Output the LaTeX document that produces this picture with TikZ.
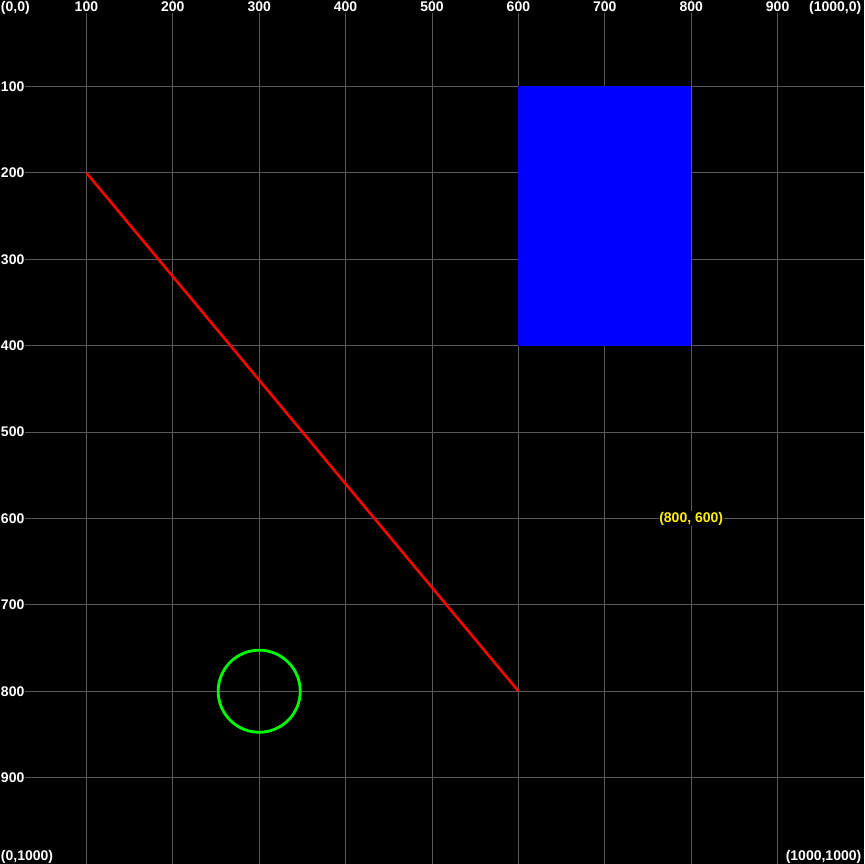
\documentclass[tikz,border=0pt]{standalone}
\usepackage{fontspec}
\setmainfont{Liberation Sans}
\begin{document}
\begin{tikzpicture}[x=0.864bp,y=-0.864bp,
  gridline/.style={draw=white!35!black,line width=0.8bp},
  lbl/.style={text=white,font=\bfseries\fontsize{14bp}{16bp}\selectfont,fill=black,inner sep=0.8bp},
  ylbl/.style={lbl,text=yellow}]
\fill[black] (0,0) rectangle (1000,1000);
\useasboundingbox (0,0) rectangle (1000,1000);
% grid
\foreach \v in {100,200,...,900}{
  \draw[gridline] (\v,0) -- (\v,1000);
  \draw[gridline] (0,\v) -- (1000,\v);
}
% shapes
\fill[blue] (600,100) rectangle (800,400);
\coordinate (p1) at (100,200);
\coordinate (p2) at (600,800);
\draw[red,line width=2.6bp] (p1) -- (p2);
\coordinate (c) at (300,800);
\draw[green,line width=2.8bp] (c) circle[radius=47.5];
% labels
\foreach \v in {100,200,...,900}{
  \node[lbl,anchor=base] at (\v,13.5) {\v};
  \node[lbl,anchor=west] at (0,\v) {\v};
}
\node[lbl,anchor=base west] at (0,13.5) {(0,0)};
\node[lbl,anchor=base east] at (998,13.5) {(1000,0)};
\node[lbl,anchor=base west] at (0,996) {(0,1000)};
\node[lbl,anchor=base east] at (998,996) {(1000,1000)};
\node[ylbl] (lab) at (800,600) {(800, 600)};
\end{tikzpicture}
\end{document}
